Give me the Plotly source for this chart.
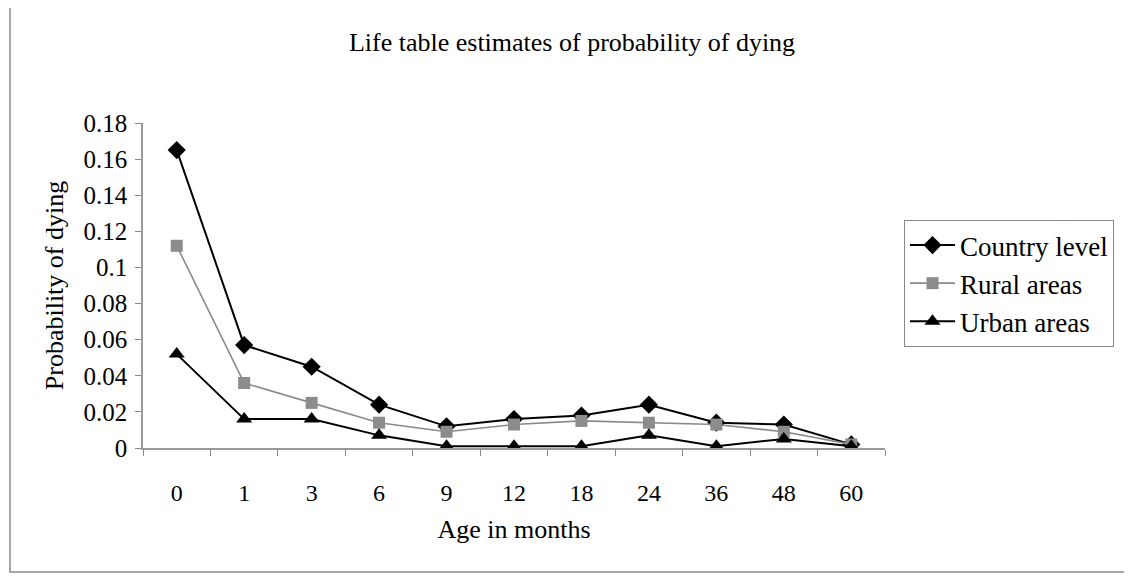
import plotly.graph_objects as go

ages = ["0", "1", "3", "6", "9", "12", "18", "24", "36", "48", "60"]
country_level = [0.165, 0.057, 0.045, 0.024, 0.012, 0.016, 0.018, 0.024, 0.014, 0.013, 0.002]
rural_areas = [0.112, 0.036, 0.025, 0.014, 0.009, 0.013, 0.015, 0.014, 0.013, 0.009, 0.002]
urban_areas = [0.052, 0.016, 0.016, 0.007, 0.001, 0.001, 0.001, 0.007, 0.001, 0.005, 0.001]
y_ticks = [0, 0.02, 0.04, 0.06, 0.08, 0.1, 0.12, 0.14, 0.16, 0.18]

# page body has an 8px margin; work in screen coords and shift
OFF = 8
W, H = 1132 - OFF, 576 - OFF
L, R, T, B = 143 - OFF, 885 - OFF, 123 - OFF, 448 - OFF

fig = go.Figure()
fig.add_trace(go.Scatter(x=ages, y=country_level, name="Country level", mode="lines+markers",
                         line=dict(color="#000000", width=2),
                         marker=dict(symbol="diamond", size=14, color="#000000")))
fig.add_trace(go.Scatter(x=ages, y=rural_areas, name="Rural areas", mode="lines+markers",
                         line=dict(color="#8a8a8a", width=1.6),
                         marker=dict(symbol="square", size=12, color="#8c8c8c")))
fig.add_trace(go.Scatter(x=ages, y=urban_areas, name="Urban areas", mode="lines+markers",
                         line=dict(color="#000000", width=2),
                         marker=dict(symbol="triangle-up", size=14, color="#000000")))

def px(xs):
    return (xs - OFF - L) / (R - L)

def py(ys):
    return (B - (ys - OFF)) / (B - T)

font = "Liberation Serif, Times New Roman, serif"
fig.update_layout(
    width=W, height=H,
    margin=dict(l=L, r=W - R, t=T, b=H - B),
    paper_bgcolor="white", plot_bgcolor="white",
    font=dict(family=font, size=24, color="#000000"),
    title=dict(text="Life table estimates of probability of dying", x=(572 - OFF) / W,
               xref="container", xanchor="center", y=1 - (42 - OFF) / H, yanchor="middle",
               font=dict(family=font, size=26, color="#000000")),
    showlegend=True,
    legend=dict(x=px(904), y=py(220), xanchor="left", yanchor="top",
                bordercolor="#888888", borderwidth=1, bgcolor="white",
                font=dict(family=font, size=27), tracegroupgap=0, itemwidth=45),
    xaxis=dict(type="category", categoryorder="array", categoryarray=ages,
               range=[-0.5, len(ages) - 0.5], tickson="boundaries",
               ticks="outside", ticklen=6, tickcolor="#888888",
               showline=True, linecolor="#999999", linewidth=1.5,
               showgrid=False, zeroline=False,
               tickfont=dict(family=font, size=24), ticklabelstandoff=22,
               title=dict(text="Age in months", standoff=15, font=dict(family=font, size=26))),
    yaxis=dict(range=[0, 0.18], tickvals=y_ticks, ticktext=[f"{v:g}" for v in y_ticks],
               ticks="outside", ticklen=6, tickcolor="#888888",
               showline=True, linecolor="#999999", linewidth=1.5,
               showgrid=False, zeroline=False,
               tickfont=dict(family=font, size=25), ticklabelstandoff=3,
               title=dict(text="Probability of dying", standoff=12, font=dict(family=font, size=26))),
    shapes=[dict(type="rect", xref="paper", yref="paper",
                 x0=px(10), x1=px(1129), y0=py(572), y1=py(7),
                 line=dict(color="#8a8a8a", width=1.5), fillcolor="rgba(0,0,0,0)", layer="below")],
)

fig.write_html("out.html")
